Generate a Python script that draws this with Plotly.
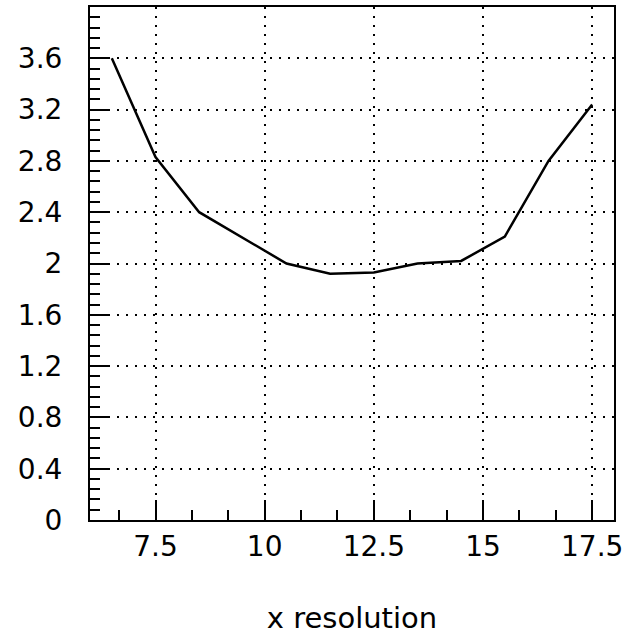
import plotly.graph_objects as go

x_res = [6.5, 7.5, 8.5, 9.5, 10.5, 11.5, 12.5, 13.5, 14.5, 15.5, 16.5, 17.5]
values = [3.6, 2.83, 2.4, 2.2, 2.0, 1.92, 1.93, 2.0, 2.02, 2.21, 2.8, 3.24]
x_ticks = [7.5, 10, 12.5, 15, 17.5]
x_tick_labels = ["7.5", "10", "12.5", "15", "17.5"]
y_ticks = [0, 0.4, 0.8, 1.2, 1.6, 2.0, 2.4, 2.8, 3.2, 3.6]
y_tick_labels = ["0", "0.4", "0.8", "1.2", "1.6", "2", "2.4", "2.8", "3.2", "3.6"]
x_title = "x resolution"

FONT = "DejaVu Sans"

fig = go.Figure()
fig.add_trace(go.Scatter(
    x=x_res, y=values, mode="lines",
    line=dict(color="black", width=2.5),
    showlegend=False, hoverinfo="skip",
))

fig.update_layout(
    width=631, height=642,
    margin=dict(l=90, r=17, t=5, b=122),
    paper_bgcolor="white", plot_bgcolor="white",
    font=dict(family=FONT, size=28, color="black"),
)

fig.update_xaxes(
    range=[6, 18],
    tickmode="array", tickvals=x_ticks, ticktext=x_tick_labels,
    ticks="inside", ticklen=20, tickwidth=2, tickcolor="black",
    minor=dict(tickmode="linear", tick0=7.5, dtick=2.5 / 3, ticks="inside",
               ticklen=10, tickwidth=1.5, tickcolor="black", showgrid=False),
    showline=True, linecolor="black", linewidth=2, mirror=True,
    showgrid=True, gridcolor="black", gridwidth=1.8, griddash="2px,7px",
    zeroline=False,
    tickfont=dict(family=FONT, size=28, color="black"),
    ticklabelstandoff=0,
    title=dict(text=x_title, font=dict(family=FONT, size=29, color="black"), standoff=46),
)

fig.update_yaxes(
    range=[0, 4],
    tickmode="array", tickvals=y_ticks, ticktext=y_tick_labels,
    ticks="inside", ticklen=20, tickwidth=2, tickcolor="black",
    minor=dict(tickmode="linear", tick0=0, dtick=0.08, ticks="inside",
               ticklen=10, tickwidth=1.5, tickcolor="black", showgrid=False),
    showline=True, linecolor="black", linewidth=2, mirror=True,
    showgrid=True, gridcolor="black", gridwidth=1.8, griddash="2px,7px",
    zeroline=False,
    tickfont=dict(family=FONT, size=28, color="black"),
    ticklabelstandoff=20,
)

fig.write_html("out.html")
